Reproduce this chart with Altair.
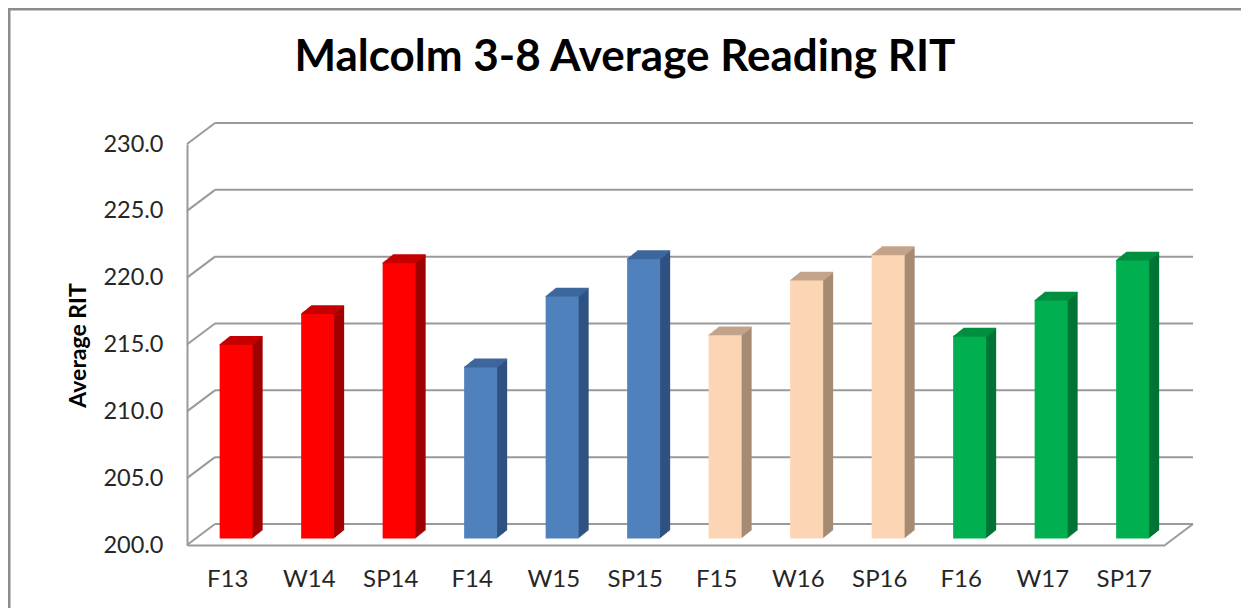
import altair as alt
import pandas as pd

# ---- data ----
terms = ["F13", "W14", "SP14", "F14", "W15", "SP15", "F15", "W16", "SP16", "F16", "W17", "SP17"]
values = [214.5, 216.8, 220.6, 212.8, 218.1, 220.9, 215.2, 219.3, 221.2, 215.1, 217.8, 220.8]
years = ["2013-14"] * 3 + ["2014-15"] * 3 + ["2015-16"] * 3 + ["2016-17"] * 3
tick_values = [200, 205, 210, 215, 220, 225, 230]
title_text = "Malcolm 3-8 Average Reading RIT"
y_title = "Average RIT"

year_domain = ["2013-14", "2014-15", "2015-16", "2016-17"]
front_colors = ["#FF0000", "#4F81BD", "#FCD5B5", "#00B050"]
side_colors = ["#A00000", "#2F5282", "#A68B74", "#007535"]
top_colors = ["#C40000", "#3D679C", "#C3A48B", "#008F3F"]

df = pd.DataFrame({"term": terms, "value": values, "year": years})
grid_df = pd.DataFrame({"v": tick_values})
floor_df = pd.DataFrame({"v": [tick_values[0]]})
title_df = pd.DataFrame({"t": [title_text]})

W = 978
H = 401
DX, DY = 28, -21          # depth of the back wall
BX, BY = 8.4, -6.5        # bar front-face offset into depth
BD, BDY = 10, -0.8        # bar depth per step
BAR_W = 33
FONT = "Lato"
LINE = "#9A9A9A"

x_enc = alt.X("term:N", sort=terms, scale=alt.Scale(paddingInner=0, paddingOuter=0),
              axis=alt.Axis(title=None, labelFont=FONT, labelFontSize=24, labelColor="#262626",
                            labelPadding=34, labelBaseline="middle", ticks=False,
                            domainColor=LINE, domainWidth=2, labelAngle=0))
y_scale = alt.Scale(domain=[200, 230], nice=False, zero=False)
y_axis = alt.Axis(values=tick_values, format=".1f", grid=False, ticks=False, labelPadding=24,
                  labelFont=FONT, labelFontSize=23.5, labelColor="#262626",
                  domainColor=LINE, domainWidth=2,
                  title=y_title, titleFont=FONT, titleFontSize=23, titleFontWeight="bold",
                  titleColor="#000000", titleAngle=270, titleX=-109, titleY=201,
                  titleAlign="center", titleBaseline="middle")

base = alt.Chart(df)

# back wall gridlines
grid = alt.Chart(grid_df).mark_rule(color=LINE, strokeWidth=2, yOffset=DY).encode(
    x=alt.value(DX), x2=alt.value(W + DX), y=alt.Y("v:Q", scale=y_scale, axis=y_axis))
# diagonals from the front axis to the back wall
diag = alt.Chart(grid_df).mark_rule(color=LINE, strokeWidth=2, y2Offset=DY).encode(
    x=alt.value(0), x2=alt.value(DX), y=alt.Y("v:Q", scale=y_scale), y2="v:Q")
# right floor edge
floor_edge = alt.Chart(floor_df).mark_rule(color=LINE, strokeWidth=2, y2Offset=DY).encode(
    x=alt.value(W), x2=alt.value(W + DX), y=alt.Y("v:Q", scale=y_scale), y2="v:Q")

layers = [grid, diag, floor_edge]

# bar depth (side colour), drawn back to front
for k in range(10, 0, -1):
    layers.append(base.mark_bar(width=BAR_W, xOffset=BX + k * BD / 10, x2Offset=BX + k * BD / 10,
                                yOffset=BY + k * BDY, y2Offset=BY + k * BDY).encode(
        x=x_enc, y=alt.Y("value:Q", scale=y_scale), y2=alt.datum(200),
        color=alt.Color("year:N", scale=alt.Scale(domain=year_domain, range=side_colors), legend=None)))
# top faces
for k in range(0, 11):
    layers.append(base.mark_tick(size=BAR_W, thickness=1.6, xOffset=BX + k * BD / 10,
                                 yOffset=BY + k * BDY, opacity=1).encode(
        x=x_enc, y=alt.Y("value:Q", scale=y_scale),
        color=alt.Color("year:N", scale=alt.Scale(domain=year_domain, range=top_colors), legend=None)))
# front faces
layers.append(base.mark_bar(width=BAR_W, xOffset=BX, x2Offset=BX, yOffset=BY, y2Offset=BY).encode(
    x=x_enc, y=alt.Y("value:Q", scale=y_scale), y2=alt.datum(200),
    color=alt.Color("year:N", scale=alt.Scale(domain=year_domain, range=front_colors), legend=None)))

# chart title
title = alt.Chart(title_df).mark_text(font=FONT, fontSize=44, fontWeight="bold", color="#000000",
                                      align="center", baseline="middle").encode(
    x=alt.value(438), y=alt.value(-86), text="t:N")
layers.append(title)

# outer frame (top and left)
frame_top = alt.Chart(floor_df).mark_rule(color="#8C8C8C", strokeWidth=3).encode(
    x=alt.value(-179), x2=alt.value(1060), y=alt.value(-135))
frame_left = alt.Chart(floor_df).mark_rule(color="#8C8C8C", strokeWidth=3).encode(
    x=alt.value(-178), y=alt.value(-136), y2=alt.value(470))
layers += [frame_top, frame_left]

chart = alt.layer(*layers).resolve_scale(color="independent").properties(
    width=W, height=H,
    autosize=alt.AutoSizeParams(type="none"),
    padding={"left": 179, "top": 136, "right": 76, "bottom": 63},
    background="white",
).configure_view(stroke=None)

chart.save("out.html", embed_options={"renderer": "svg", "actions": False})
